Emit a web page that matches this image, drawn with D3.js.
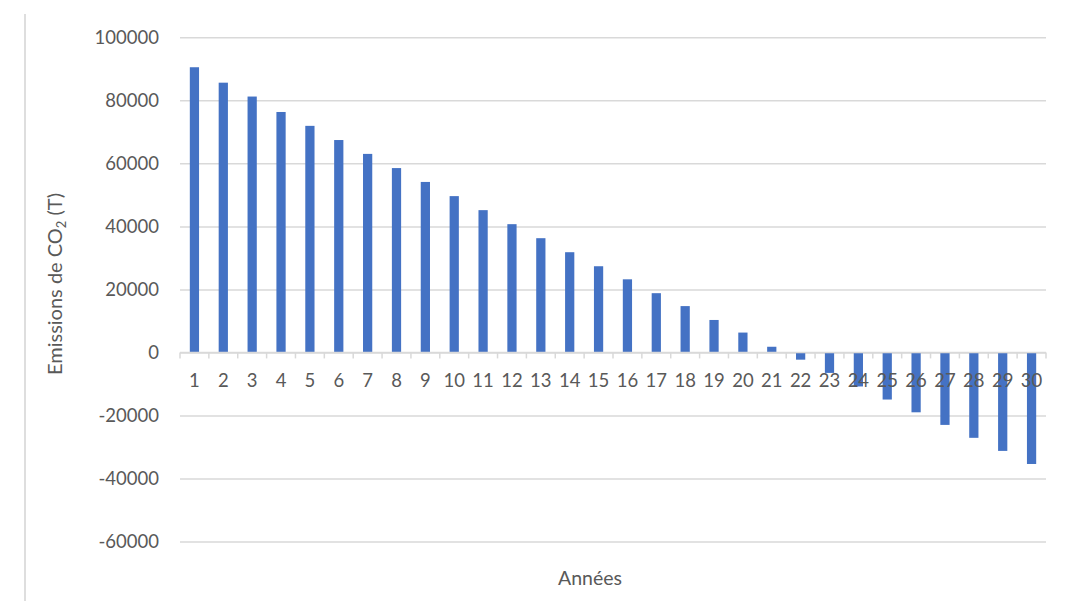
<!DOCTYPE html>
<html><head><meta charset="utf-8">
<script src="https://cdn.jsdelivr.net/npm/d3@7"></script>
<style>body{margin:0;background:#fff;} svg{display:block;}</style>
</head><body>
<svg id="c" width="1065" height="601"></svg>
<script>
const years = d3.range(1, 31).map(String);
const emissions = [90500, 85600, 81200, 76300, 71900, 67400, 63000, 58500, 54100, 49600,
  45150, 40700, 36250, 31800, 27350, 23200, 18800, 14700, 10300, 6300,
  1800, -2300, -6500, -10800, -14950, -19000, -23000, -27100, -31250, -35400];
const yTicks = [100000, 80000, 60000, 40000, 20000, 0, -20000, -40000, -60000];
const yLabel = "Emissions de CO";
const xLabel = "Années";

(function () {
const svg = d3.select("#c");
const font = "Lato, 'Open Sans', sans-serif";
const pL = 180, pR = 1046, pT = 37.3, pB = 541.5;
const x = d3.scaleBand().domain(years).range([pL, pR]).paddingInner(0.68).paddingOuter(0.34);
const xb = d3.scaleBand().domain(years).range([pL, pR]);
const y = d3.scaleLinear().domain([-60000, 100000]).range([pB, pT]);

// left border line
svg.append("line").attr("x1", 25).attr("x2", 25).attr("y1", 14).attr("y2", 601)
  .attr("stroke", "#dedede").attr("stroke-width", 2);

// gridlines + y labels
const yAxis = d3.axisLeft(y).tickValues(yTicks).tickSize(-(pR - pL)).tickFormat(d => String(d)).tickPadding(21);
const gy = svg.append("g").attr("transform", `translate(${pL},0)`).call(yAxis);
gy.select(".domain").remove();
gy.selectAll(".tick line").attr("stroke", "#d9d9d9").attr("stroke-width", 1.5);
gy.selectAll(".tick text").attr("fill", "#595959").attr("font-family", font).attr("font-size", 18.5);

// bars
svg.append("g").selectAll("rect").data(emissions).join("rect")
  .attr("x", (d, i) => x(years[i]))
  .attr("width", x.bandwidth())
  .attr("y", d => y(Math.max(0, d)))
  .attr("height", d => Math.abs(y(d) - y(0)))
  .attr("fill", "#4472c4");

// zero axis line with ticks at category boundaries
const z = y(0);
svg.append("line").attr("x1", pL).attr("x2", pR).attr("y1", z).attr("y2", z)
  .attr("stroke", "#d9d9d9").attr("stroke-width", 1.5);
svg.append("g").selectAll("line").data(d3.range(0, 31)).join("line")
  .attr("x1", i => pL + i * xb.step()).attr("x2", i => pL + i * xb.step())
  .attr("y1", z).attr("y2", z + 6)
  .attr("stroke", "#d9d9d9").attr("stroke-width", 1.5);

// x labels
svg.append("g").selectAll("text").data(years).join("text")
  .attr("x", d => xb(d) + xb.bandwidth() / 2)
  .attr("y", 387)
  .attr("text-anchor", "middle")
  .attr("fill", "#595959").attr("font-family", font).attr("font-size", 18.5)
  .text(d => d);

// y axis title
const yt = svg.append("text")
  .attr("transform", "translate(62,284) rotate(-90)")
  .attr("text-anchor", "middle")
  .attr("fill", "#595959").attr("font-family", font).attr("font-size", 20);
yt.append("tspan").text(yLabel);
yt.append("tspan").attr("font-size", 13).attr("dy", 4).text("2");
yt.append("tspan").attr("dy", -4).text(" (T)");

// x axis title
svg.append("text").attr("x", 590).attr("y", 585).attr("text-anchor", "middle")
  .attr("fill", "#595959").attr("font-family", font).attr("font-size", 19.5)
  .text(xLabel);
})();
</script>
</body></html>
